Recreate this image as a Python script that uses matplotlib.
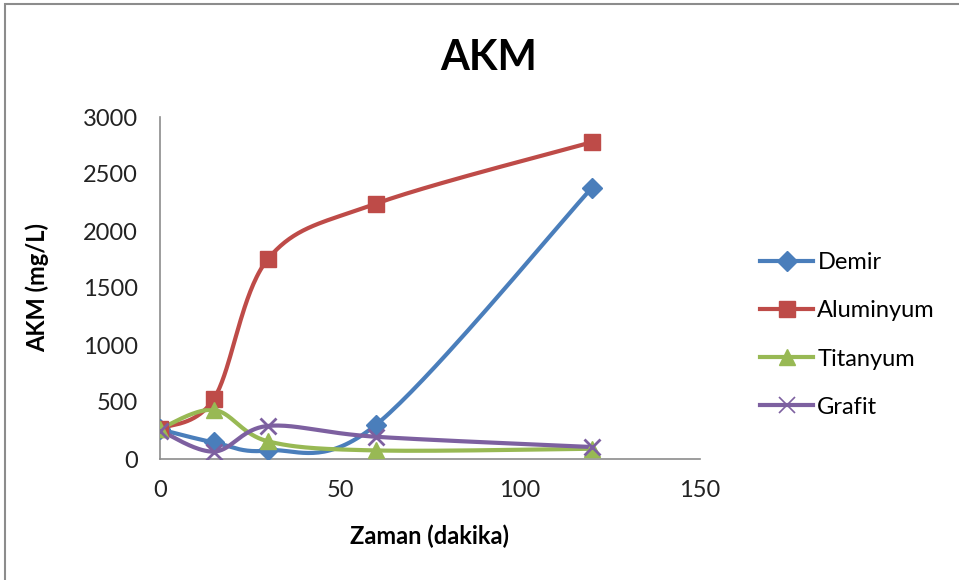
import numpy as np
import matplotlib
matplotlib.use("Agg")
import matplotlib.pyplot as plt
from matplotlib.patches import Rectangle
from matplotlib.lines import Line2D

plt.rcParams['font.family'] = ['Lato', 'DejaVu Sans']

zaman = [0, 15, 30, 60, 120]
demir = [260, 145, 75, 300, 2380]
aluminyum = [265, 530, 1755, 2240, 2780]
titanyum = [265, 430, 155, 75, 90]
grafit = [250, 65, 290, 195, 105]

series = [
    ("Demir", demir, "#4A7EBB", "D", 10),
    ("Aluminyum", aluminyum, "#BE4B48", "s", 12),
    ("Titanyum", titanyum, "#98B954", "^", 12),
    ("Grafit", grafit, "#7D60A0", "x", 11),
]

def smooth(x, y, n=40):
    x = np.asarray(x, float); y = np.asarray(y, float)
    P = np.column_stack([x / 150.0, y / 3000.0 * (342 / 540)])
    xs, ys = [], []
    for i in range(len(P) - 1):
        p0 = P[i - 1] if i > 0 else P[i]
        p1 = P[i]; p2 = P[i + 1]
        p3 = P[i + 2] if i + 2 < len(P) else P[i + 1]
        c1 = p1 + (p2 - p0) / 6.0
        c2 = p2 - (p3 - p1) / 6.0
        t = np.linspace(0, 1, n)[:, None]
        B = (1 - t) ** 3 * p1 + 3 * (1 - t) ** 2 * t * c1 + 3 * (1 - t) * t ** 2 * c2 + t ** 3 * p2
        xs.append(B[:, 0] * 150.0); ys.append(B[:, 1] * 3000.0 / (342 / 540))
    return np.concatenate(xs), np.concatenate(ys)

fig = plt.figure(figsize=(9.59, 5.8), dpi=100)
ax = fig.add_axes([160 / 959, 121 / 580, 540 / 959, 342 / 580])

for name, vals, col, mk, ms in series:
    sx, sy = smooth(zaman, vals)
    ax.plot(sx, sy, color=col, lw=3.0, solid_capstyle='round', zorder=2)
    if mk == "x":
        ax.plot(zaman, vals, linestyle='none', marker=mk, ms=ms, mew=2.0, color=col, zorder=3)
    else:
        ax.plot(zaman, vals, linestyle='none', marker=mk, ms=ms, color=col, mec=col, zorder=3)

ax.set_xlim(0, 150)
ax.set_ylim(0, 3000)
ax.set_xticks([0, 50, 100, 150])
ax.set_yticks(range(0, 3001, 500))
ax.tick_params(axis='y', length=0, labelsize=17, colors='#222222', pad=16)
ax.tick_params(axis='x', length=0, labelsize=17, colors='#222222', pad=15)
for s in ['top', 'right']:
    ax.spines[s].set_visible(False)
for s in ['left', 'bottom']:
    ax.spines[s].set_color('#8C8C8C')
    ax.spines[s].set_linewidth(1.2)

ax.set_xlabel("Zaman (dakika)", fontsize=17, fontweight='bold', labelpad=17)
ax.set_ylabel("AKM (mg/L)", fontsize=17, fontweight='bold', labelpad=24)
fig.text(489 / 959, 1 - 58 / 580, "AKM", fontsize=30, fontweight='bold', ha='center', va='center')

handles = []
for name, vals, col, mk, ms in series:
    if mk == "x":
        h = Line2D([], [], color=col, lw=3.0, marker=mk, ms=ms, mew=1.2)
    else:
        h = Line2D([], [], color=col, lw=3.0, marker=mk, ms=ms, mec=col)
    handles.append(h)
leg = fig.legend(handles, [s[0] for s in series], loc='center left',
                 bbox_to_anchor=(760 / 959, 1 - 335 / 580), frameon=False, borderpad=0,
                 borderaxespad=0,
                 fontsize=17, handlelength=2.25, handletextpad=0.18, labelspacing=1.15)

fig.patches.append(Rectangle((5 / 959, -0.05), 1.1, 1 - 4 / 580 + 0.05, transform=fig.transFigure,
                             fill=False, edgecolor='#8C8C8C', lw=1.5))

fig.savefig("out.png", dpi=100)
